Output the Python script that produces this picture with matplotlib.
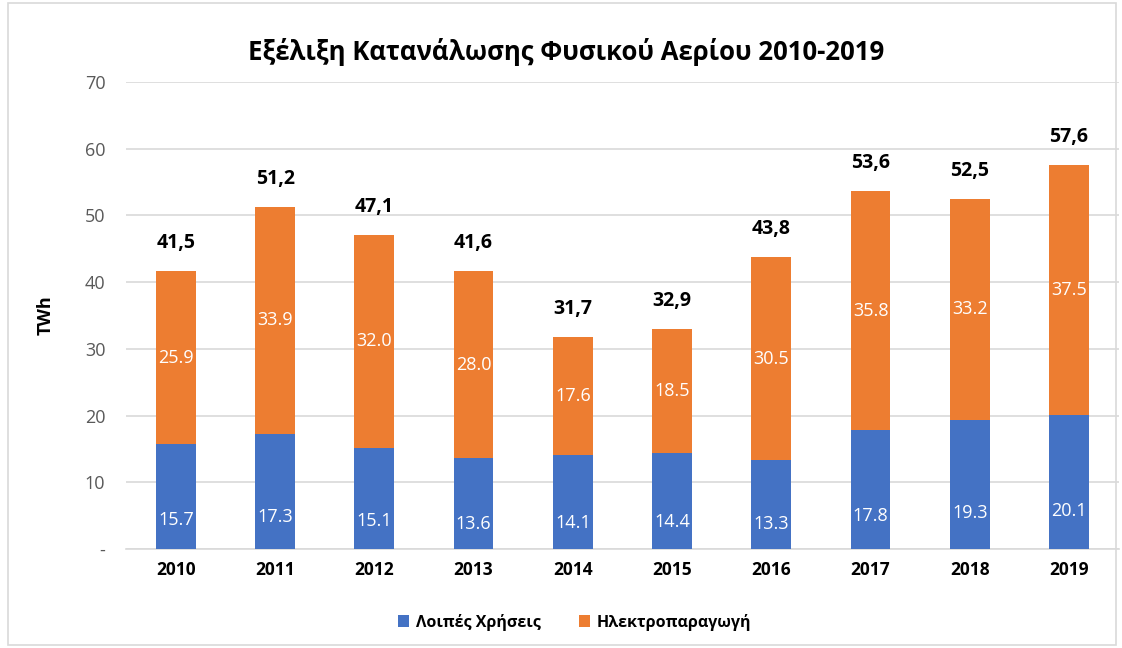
import matplotlib
matplotlib.use("Agg")
import matplotlib.pyplot as plt
import numpy as np
from matplotlib.patches import Rectangle

plt.rcParams['font.family'] = ['Open Sans', 'DejaVu Sans']

years = ['2010', '2011', '2012', '2013', '2014', '2015', '2016', '2017', '2018', '2019']
other_uses = [15.7, 17.3, 15.1, 13.6, 14.1, 14.4, 13.3, 17.8, 19.3, 20.1]
power_gen = [25.9, 33.9, 32.0, 28.0, 17.6, 18.5, 30.5, 35.8, 33.2, 37.5]
totals = [41.5, 51.2, 47.1, 41.6, 31.7, 32.9, 43.8, 53.6, 52.5, 57.6]

BLUE = '#4472C4'
ORANGE = '#ED7D31'

fig = plt.figure(figsize=(11.22, 6.48), dpi=100)
ax = fig.add_axes([0.1125, 0.1528, 0.8845, 0.7207])

x = np.arange(len(years))
b1 = ax.bar(x, other_uses, width=0.4, color=BLUE, label='Λοιπές Χρήσεις', zorder=3)
b2 = ax.bar(x, power_gen, width=0.4, bottom=other_uses, color=ORANGE,
            label='Ηλεκτροπαραγωγή', zorder=3)

for i in range(len(years)):
  ax.text(x[i], other_uses[i] * 0.28, '%.1f' % other_uses[i], ha='center', va='center',
          color='white', fontsize=13, zorder=4)
  ax.text(x[i], other_uses[i] + power_gen[i] / 2, '%.1f' % power_gen[i], ha='center',
          va='center', color='white', fontsize=13, zorder=4)
  ax.annotate(('%.1f' % totals[i]).replace('.', ','), (x[i], other_uses[i] + power_gen[i]),
              xytext=(0, 13), textcoords='offset points', ha='center', va='bottom',
              fontsize=14, fontweight='bold', color='black')

ax.set_xlim(-0.5, len(years) - 0.5)
ax.set_ylim(0, 70)
ax.set_yticks(range(0, 71, 10))
ax.set_yticklabels(['-'] + [str(v) for v in range(10, 71, 10)])
ax.set_xticks(x)
ax.set_xticklabels(years, fontweight='bold', fontsize=12.5)
ax.tick_params(axis='y', length=0, pad=15, labelsize=13, labelcolor='#595959')
ax.tick_params(axis='x', length=0, pad=9)
ax.grid(axis='y', color='#D9D9D9', linewidth=1.2, zorder=0)
for s in ['top', 'right', 'left']:
  ax.spines[s].set_visible(False)
ax.spines['bottom'].set_color('#D9D9D9')
ax.spines['bottom'].set_linewidth(1.2)

ax.set_ylabel('TWh', fontweight='bold', fontsize=13, labelpad=22)

fig.suptitle('Εξέλιξη Κατανάλωσης Φυσικού Αερίου 2010-2019', x=0.505, y=0.942,
             fontsize=18.5, fontweight='bold')

fig.legend(handles=[b1, b2], loc='center', bbox_to_anchor=(0.512, 0.04), ncol=2,
           frameon=False, prop={'size': 11.5, 'weight': 'bold'}, handlelength=0.7,
           handleheight=0.7, columnspacing=2.4, handletextpad=0.4)

fig.patches.append(Rectangle((0.007, 0.004), 0.988, 0.992, transform=fig.transFigure,
                             fill=False, edgecolor='#D9D9D9', linewidth=1.2))

fig.savefig('out.png', dpi=100)
